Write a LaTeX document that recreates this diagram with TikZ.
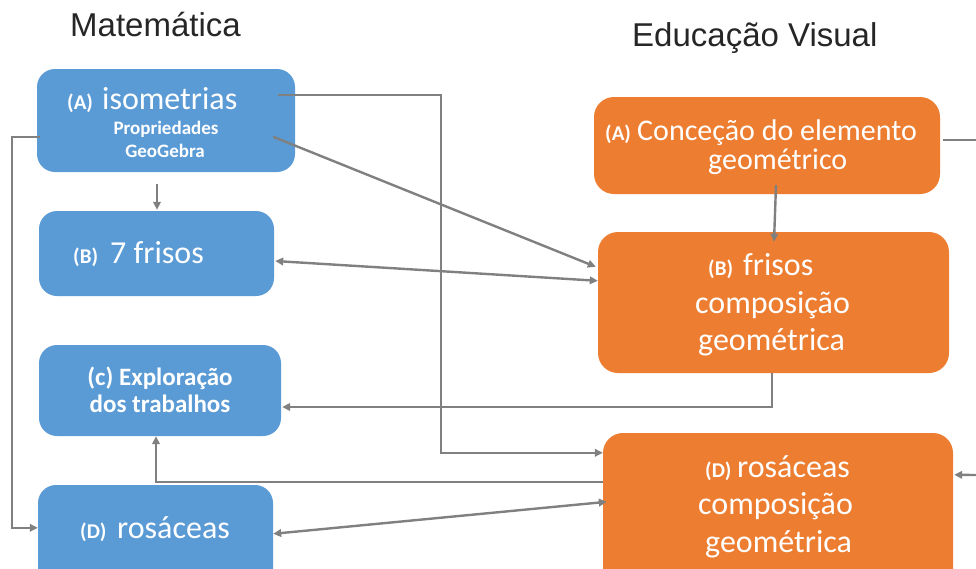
\documentclass[tikz,border=0pt]{standalone}
\usepackage{fontspec}
\setmainfont{Carlito}
\newfontfamily\titlefont{Liberation Sans}
\usetikzlibrary{arrows.meta,calc}
\definecolor{mblue}{HTML}{5B9BD5}
\definecolor{morange}{HTML}{ED7D31}
\definecolor{mline}{HTML}{808080}
\definecolor{mtitle}{HTML}{262626}
\newcommand\fsz[1]{\fontsize{#1}{#1}\selectfont}
\tikzset{
  bluebox/.style={fill=mblue, draw=none, rounded corners=18pt, inner sep=0pt},
  orangebox/.style={fill=morange, draw=none, rounded corners=20pt, inner sep=0pt},
  txt/.style={anchor=base west, inner sep=0pt, text=white},
  txtc/.style={anchor=base, inner sep=0pt, text=white},
  lbl/.style={txt, font=\fsz{21}\bfseries},
  big/.style={txt, font=\fsz{32}},
  title/.style={anchor=base west, inner sep=0pt, text=mtitle, font=\titlefont\fsz{33}},
  conn/.style={draw=mline, line width=2.4pt},
  tip/.style={-{Triangle[length=8pt,width=7.5pt]}},
  both/.style={{Triangle[length=8pt,width=7.5pt]}-{Triangle[length=8pt,width=7.5pt]}}
}
\begin{document}
\begin{tikzpicture}[x=1pt,y=-1pt]
\useasboundingbox (0,0) rectangle (976,568);
\clip (0,0) rectangle (976,568);
\fill[white] (0,0) rectangle (976,568);

% titles
\node[title] (tmat) at (70,36) {Matemática};
\node[title] (tedu) at (632,46) {Educação Visual};

% boxes
\node[bluebox, minimum width=258pt, minimum height=103pt] (bA) at (166,120.5) {};
\node[bluebox, minimum width=235pt, minimum height=85pt] (bB) at (156.5,253.5) {};
\node[bluebox, minimum width=242pt, minimum height=91pt] (bC) at (160,390.5) {};
\node[bluebox, minimum width=235pt, minimum height=115pt] (bD) at (155.5,542.5) {};
\node[orangebox, minimum width=346pt, minimum height=97pt] (oA) at (767,145.5) {};
\node[orangebox, minimum width=351pt, minimum height=141pt] (oB) at (773.5,302.5) {};
\node[orangebox, minimum width=350pt, minimum height=167pt] (oD) at (778,516.5) {};

% connectors
\coordinate (oAout) at (976,140);
\coordinate (oDin) at (976,475);
\draw[conn,tip] ($(bA.north east)+(-17,26)$) -- ++(163,0) |- ($(oD.north west)+(0,20)$);
\draw[conn,tip] ($(bA.north east)+(-22,68)$) -- ($(oB.north west)+(-2,35)$);
\draw[conn,both] ($(bB.east)+(1,7.5)$) -- ($(oB.north west)+(0,49)$);
\draw[conn,tip] ($(bA.south)+(-9,12)$) -- ($(bB.north)+(0.5,-1)$);
\draw[conn,tip] ($(oA.south)+(9,-9)$) -- ($(oB.north)+(0.5,10)$);
\draw[conn,tip] ($(oB.south)+(-1.5,0)$) |- ($(bC.east)+(1,16.5)$);
\draw[conn,tip] ($(oD.north west)+(0,49)$) -| ($(bC.south)+(-4,0)$);
\draw[conn,both] ($(bD.north east)+(0,49)$) -- ($(oD.north west)+(4,69)$);
\draw[conn,tip] ($(bA.west)+(3,16.5)$) -- ++(-28,0) |- ($(bD.north west)+(0,43)$);
\draw[conn] ($(oA.east)+(3,-5.5)$) -- (oAout);
\draw[conn,tip] (oDin) -- ($(oD.north east)+(1,42)$);

% texts blue
\node[lbl] (tAl) at (67,109) {(A)};
\node[big] (tA) at (102,109) {isometrias};
\node[txtc, font=\fsz{19}\bfseries] (tA2) at (166,134) {Propriedades};
\node[txtc, font=\fsz{19}\bfseries] (tA3) at (165,157) {GeoGebra};
\node[lbl] (tBl) at (73,263) {(B)};
\node[big] (tB) at (110,263) {7 frisos};
\node[txtc, font=\fsz{25}\bfseries] (tC1) at (160,385) {(c) Exploração};
\node[txtc, font=\fsz{25}\bfseries] (tC2) at (160,412) {dos trabalhos};
\node[lbl] (tDl) at (80,538) {(D)};
\node[big] (tD) at (117,538) {rosáceas};

% texts orange
\node[lbl] (uAl) at (605,140) {(A)};
\node[txt, font=\fsz{30}] (uA1) at (637,140) {Conceção do elemento};
\node[txt, font=\fsz{30}] (uA2) at (708,169) {geométrico};
\node[lbl] (uBl) at (708,275) {(B)};
\node[big] (uB1) at (743,275) {frisos};
\node[big] (uB2) at (695,313) {composição};
\node[big] (uB3) at (698,350) {geométrica};
\node[lbl] (uDl) at (705,477) {(D)};
\node[big] (uD1) at (737,477) {rosáceas};
\node[big] (uD2) at (698,514) {composição};
\node[big] (uD3) at (705,552) {geométrica};
\end{tikzpicture}
\end{document}
